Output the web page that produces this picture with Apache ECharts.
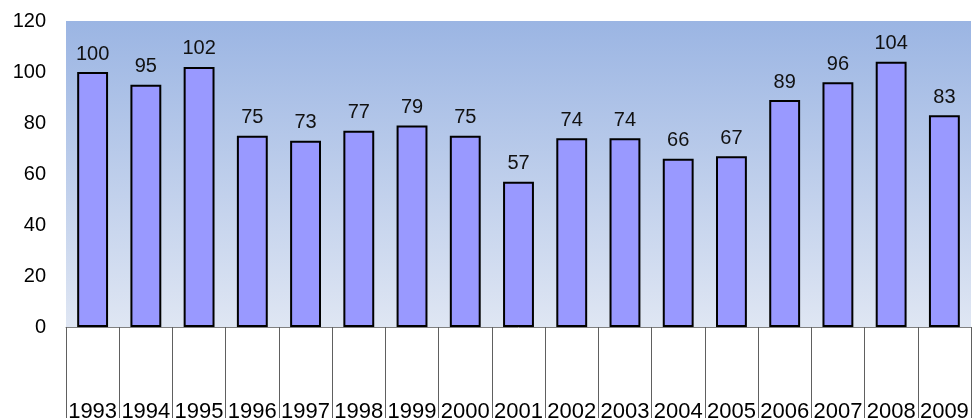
<!DOCTYPE html>
<html>
<head>
<meta charset="utf-8">
<script src="https://cdn.jsdelivr.net/npm/echarts@6/dist/echarts.min.js"></script>
<style>html,body{margin:0;padding:0;background:#fff;}#c{width:973px;height:418px;}</style>
</head>
<body>
<div id="c"></div>
<script>
const years = ['1993','1994','1995','1996','1997','1998','1999','2000','2001','2002','2003','2004','2005','2006','2007','2008','2009'];
const values = [100,95,102,75,73,77,79,75,57,74,74,66,67,89,96,104,83];
const yTicks = {min: 0, max: 120, interval: 20};

const chart = echarts.init(document.getElementById('c'));
chart.setOption({
  animation: false,
  grid: {
    left: 66, right: 2, top: 21, bottom: 91,
    outerBoundsMode: 'none', containLabel: false,
    show: true, borderWidth: 0,
    backgroundColor: new echarts.graphic.LinearGradient(0, 0, 0, 1, [
      {offset: 0, color: '#9bb5e3'},
      {offset: 1, color: '#dfe6f3'}
    ])
  },
  xAxis: {
    type: 'category',
    data: years,
    axisLine: {show: true, lineStyle: {color: '#808080', width: 1}},
    axisTick: {show: true, length: 91, interval: 0, lineStyle: {color: '#606060', width: 1}},
    axisLabel: {
      interval: 0, margin: 74, fontSize: 22, color: '#000',
      fontFamily: 'Liberation Sans, Arial, sans-serif'
    }
  },
  yAxis: {
    type: 'value',
    min: yTicks.min, max: yTicks.max, interval: yTicks.interval,
    axisLine: {show: false},
    axisTick: {show: false},
    splitLine: {show: false},
    axisLabel: {margin: 20, fontSize: 20, color: '#000', fontFamily: 'Liberation Sans, Arial, sans-serif'}
  },
  series: [{
    type: 'bar',
    data: values,
    barWidth: '58%',
    itemStyle: {color: '#9999ff', borderColor: '#000', borderWidth: 2},
    label: {
      show: true, position: 'top', distance: 8,
      fontSize: 20, color: '#111', fontFamily: 'Liberation Sans, Arial, sans-serif'
    }
  }]
});
</script>
</body>
</html>
